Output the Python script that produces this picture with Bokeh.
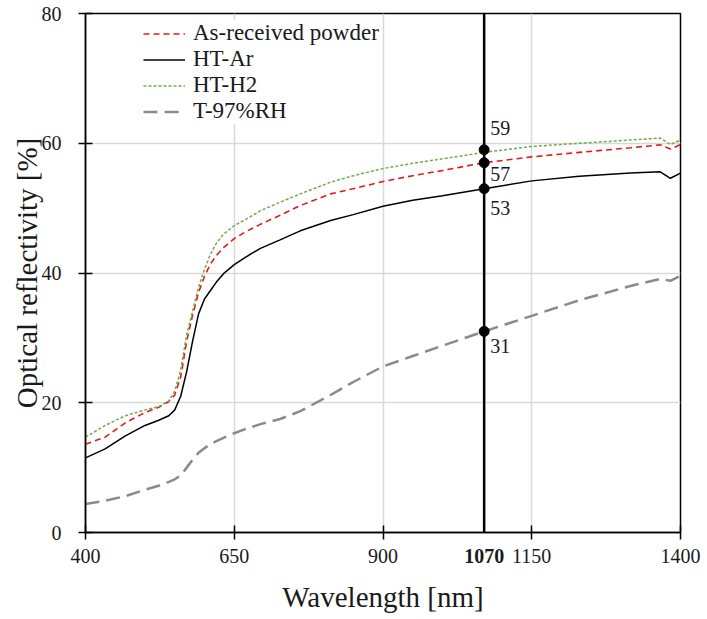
from bokeh.plotting import figure
from bokeh.models import Range1d, FixedTicker, Span, ColumnDataSource, LinearAxis
from bokeh.embed import file_html
from bokeh.resources import INLINE
from bokeh.core.properties import value

# ---------------- data ----------------
wavelength = [400, 433, 467, 500, 523, 540, 550, 560, 570, 580, 590, 600, 610, 620,
              632, 650, 670, 694, 727, 761, 812, 850, 900, 950, 1000, 1070, 1150,
              1230, 1316, 1366, 1383, 1400]
as_received = [13.6, 14.7, 16.9, 18.5, 19.3, 20.2, 21.2, 24.0, 29.5, 33.5, 37.0, 39.5,
               41.4, 42.7, 43.9, 45.3, 46.4, 47.5, 48.9, 50.4, 52.2, 53.0, 54.1, 55.0,
               55.8, 57.0, 57.9, 58.6, 59.3, 59.75, 59.1, 59.8]
ht_ar = [11.5, 12.9, 14.9, 16.5, 17.3, 18.0, 18.9, 21.0, 24.8, 29.5, 33.7, 36.0, 37.3,
         38.6, 39.9, 41.3, 42.5, 43.8, 45.1, 46.5, 48.1, 49.0, 50.3, 51.2, 51.9, 53.0,
         54.2, 54.9, 55.4, 55.6, 54.6, 55.4]
ht_h2 = [14.7, 16.5, 18.0, 18.9, 19.4, 20.3, 21.8, 25.0, 30.5, 34.1, 37.8, 40.6, 42.9,
         44.6, 46.0, 47.3, 48.3, 49.6, 50.9, 52.2, 54.0, 55.0, 56.1, 56.9, 57.6, 58.6,
         59.5, 60.0, 60.5, 60.8, 59.8, 60.5]
t_97rh = [4.4, 4.9, 5.6, 6.6, 7.2, 7.8, 8.2, 8.8, 10.0, 11.2, 12.3, 13.0, 13.6, 14.1,
          14.6, 15.3, 16.0, 16.7, 17.5, 18.7, 21.2, 23.2, 25.6, 27.2, 28.8, 31.0, 33.4,
          35.8, 38.0, 39.1, 38.8, 39.6]

series_names = ["As-received powder", "HT-Ar", "HT-H2", "T-97%RH"]

marker_wavelength = 1070
marker_values = [59, 57, 53, 31]
marker_labels = ["59", "57", "53", "31"]

x_ticks = [400, 650, 900, 1150, 1400]
y_ticks = [0, 20, 40, 60, 80]

# ---------------- styling ----------------
FONT = "Liberation Serif"
TXT = "#1a1a1a"
label_y_offsets = [-22, 11, 19, 15]  # screen offsets of the value labels

p = figure(width=707, height=619,
           x_range=Range1d(400, 1400), y_range=Range1d(0, 80),
           output_backend="svg", toolbar_location=None,
           min_border_left=85, min_border_right=27,
           min_border_top=13, min_border_bottom=87)

p.background_fill_color = "white"
p.border_fill_color = "white"
p.outline_line_color = "black"
p.outline_line_width = 1.5

# grid
p.xgrid.ticker = FixedTicker(ticks=x_ticks)
p.ygrid.ticker = FixedTicker(ticks=y_ticks)
for g in (p.xgrid[0], p.ygrid[0]):
    g.grid_line_color = "#d9d9d9"
    g.grid_line_width = 1.5

# axes
xax = p.xaxis[0]
yax = p.yaxis[0]
xax.ticker = FixedTicker(ticks=x_ticks)
yax.ticker = FixedTicker(ticks=y_ticks)
xax.axis_label = "Wavelength [nm]"
yax.axis_label = "Optical reflectivity [%]"
for ax in (xax, yax):
    ax.axis_line_color = "black"
    ax.axis_line_width = 1.5
    ax.major_tick_line_color = "black"
    ax.major_tick_line_width = 1.5
    ax.major_tick_in = 7
    ax.major_tick_out = 7
    ax.minor_tick_line_color = None
    ax.major_label_text_font = FONT
    ax.major_label_text_font_size = "20px"
    ax.major_label_text_color = TXT
    ax.axis_label_text_font = FONT
    ax.axis_label_text_font_size = "29px"
    ax.axis_label_text_font_style = "normal"
    ax.axis_label_text_color = TXT
xax.major_label_standoff = 9
xax.axis_label_standoff = 15
yax.major_label_standoff = 17
yax.axis_label_standoff = -4

# second bottom axis: only the bold 1070 tick label, pulled up into the
# tick-label row of the main x axis
xax2 = LinearAxis(ticker=FixedTicker(ticks=[marker_wavelength]))
xax2.axis_line_color = None
xax2.major_tick_line_color = None
xax2.major_tick_in = 0
xax2.major_tick_out = 0
xax2.minor_tick_line_color = None
xax2.major_label_text_font = FONT
xax2.major_label_text_font_size = "20px"
xax2.major_label_text_font_style = "bold"
xax2.major_label_text_color = TXT
xax2.major_label_standoff = -67
p.add_layout(xax2, "below")

# series
p.line(wavelength, as_received, line_color="#e31a1c", line_width=1.6,
       line_dash="6 4", legend_label=series_names[0])
p.line(wavelength, ht_ar, line_color="black", line_width=1.5,
       legend_label=series_names[1])
p.line(wavelength, ht_h2, line_color="#70ad47", line_width=1.5,
       line_dash="3 2", legend_label=series_names[2])
p.line(wavelength, t_97rh, line_color="#8a8a8a", line_width=2.5,
       line_dash="14 7", legend_label=series_names[3])

# vertical marker line at 1070 nm with the read-out points
p.add_layout(Span(location=marker_wavelength, dimension="height",
                  line_color="black", line_width=2.5))
src = ColumnDataSource(dict(x=[marker_wavelength] * len(marker_values),
                            y=marker_values, t=marker_labels,
                            yo=label_y_offsets))
p.scatter("x", "y", source=src, size=10, color="black")
p.text("x", "y", text="t", source=src, x_offset=6, y_offset="yo",
       text_font=value(FONT), text_font_size="20px", text_color=TXT,
       text_align="left", text_baseline="middle")

# legend
lg = p.legend[0]
lg.location = (58, 408)
lg.label_text_font = FONT
lg.label_text_font_size = "23px"
lg.label_text_color = TXT
lg.glyph_width = 42
lg.glyph_height = 21
lg.label_height = 21
lg.spacing = 0
lg.padding = 5
lg.margin = 0
lg.label_standoff = 8
lg.border_line_color = None
lg.background_fill_color = "white"
lg.background_fill_alpha = 1.0

open("out.html", "w").write(file_html(p, INLINE))
